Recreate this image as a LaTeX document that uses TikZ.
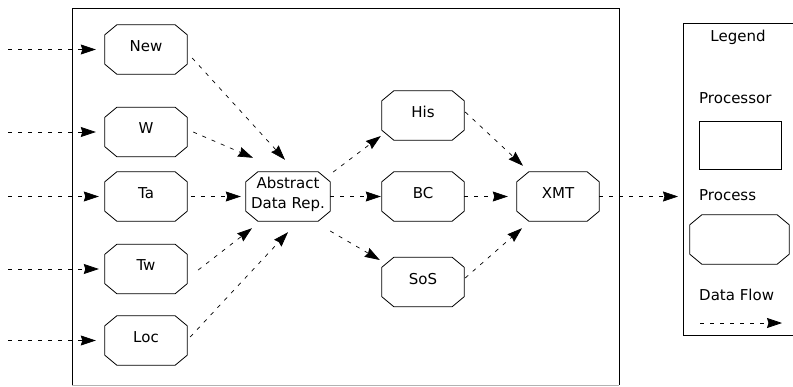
\documentclass[tikz,border=0pt]{standalone}
\usepackage{fontspec}
\setmainfont{DejaVu Sans}
\usetikzlibrary{arrows.meta}

\tikzset{
  proc/.style={rectangle, minimum width=82pt, minimum height=49pt,
    inner sep=0pt, text depth=7pt,
    font=\fontsize{15}{20}\selectfont, align=center},
  octline/.style={line width=0.8pt, line join=miter},
  flow/.style={line width=0.7pt, dash pattern=on 4pt off 6pt,
    -{Stealth[length=15pt,width=10pt,inset=1.5pt]}},
  frame/.style={line width=0.9pt},
  lbl/.style={font=\fontsize{15}{20}\selectfont, inner sep=0pt}
}

% octagonal outline of a process box, with corner cuts of 12pt x 10pt
\newcommand\octframe[1]{%
  \draw[octline]
    ([xshift=12pt]#1.north west) -- ([xshift=-12pt]#1.north east)
    -- ([yshift=-10pt]#1.north east) -- ([yshift=10pt]#1.south east)
    -- ([xshift=-12pt]#1.south east) -- ([xshift=12pt]#1.south west)
    -- ([yshift=10pt]#1.south west) -- ([yshift=-10pt]#1.north west)
    -- cycle;}

\begin{document}
\begin{tikzpicture}[x=1pt,y=-1pt]
\useasboundingbox (0,0) rectangle (793,386);

% system frame (bottom edge runs along the lower margin)
\draw[frame] (72,385) -- (72,8) -- (619,8) -- (619,385);
\draw[gray!60, line width=0.6pt] (72,385.5) -- (619,385.5);

% input processes
\node[proc] (new) at (146,49.5) {New};
\node[proc] (w)   at (146,132)  {W};
\node[proc] (ta)  at (146,196.5) {Ta};
\node[proc] (tw)  at (146,269)  {Tw};
\node[proc] (loc) at (146,340.5) {Loc};

% central representation
\node[proc, minimum width=84pt] (abs) at (288,196.5) {Abstract\\Data Rep.};

% output processes
\node[proc] (his) at (423,115.5) {His};
\node[proc] (bc)  at (423,196.5) {BC};
\node[proc] (sos) at (423,282)   {SoS};
\node[proc] (xmt) at (558,196.5) {XMT};

\foreach \n in {new,w,ta,tw,loc,abs,his,bc,sos,xmt} {\octframe{\n}}

% free ends of external flows
\coordinate (inNew) at (8,49.5);
\coordinate (inW)   at (8,132);
\coordinate (inTa)  at (8,196.5);
\coordinate (inTw)  at (8,269);
\coordinate (inLoc) at (8,340.5);
\coordinate (out)   at (678,196.5);

% incoming data flows
\draw[flow, shorten >=9pt] (inNew) -- (new.west);
\draw[flow, shorten >=9pt] (inW)   -- (w.west);
\draw[flow, shorten >=6pt] (inTa)  -- (ta.west);
\draw[flow, shorten >=6pt] (inTw)  -- (tw.west);
\draw[flow, shorten >=9pt] (inLoc) -- (loc.west);

% flows into the abstract representation
\draw[flow] ([shift={(5,8.5)}]new.east) -- ([shift={(-3,-12)}]abs.north);
\draw[flow] ([shift={(6,0)}]w.east)     -- ([shift={(-35,-14)}]abs.north);
\draw[flow, shorten >=5pt] ([shift={(4,0)}]ta.east) -- (abs.west);
\draw[flow] ([shift={(11,1)}]tw.east)   -- ([shift={(-36,7)}]abs.south);
\draw[flow] ([shift={(3,-3.5)}]loc.east) -- ([shift={(0,11)}]abs.south);

% flows out of the abstract representation
\draw[flow] ([shift={(3,-24.5)}]abs.east) -- ([shift={(-1,20.5)}]his.west);
\draw[flow, shorten >=1pt] (abs.east) -- (bc.west);
\draw[flow] ([shift={(0,34.5)}]abs.east) -- ([shift={(-2,-22)}]sos.west);

% flows into XMT
\draw[flow] ([shift={(1,-3.5)}]his.east) -- ([shift={(-35,-6)}]xmt.north);
\draw[flow, shorten >=9pt] (bc.east) -- (xmt.west);
\draw[flow] ([shift={(1,-4)}]sos.east) -- ([shift={(-36,7)}]xmt.south);

% outgoing flow
\draw[flow] (xmt.east) -- (out);

% legend
\draw[frame] (800,23) -- (683,23) -- (683,335) -- (800,335);
\node[lbl] (legtitle) at (738,37) {Legend};
\node[lbl, anchor=west] (legproc) at (699,98) {Processor};
\node[draw, line width=0.8pt, minimum width=82pt, minimum height=48pt, inner sep=0pt] (legbox) at (740,145) {};
\node[lbl, anchor=west] (legprocess) at (699,195) {Process};
\node[proc, minimum width=99pt] (legoct) at (739.5,239.5) {};
\octframe{legoct}
\node[lbl, anchor=west] (legflow) at (699,295) {Data Flow};
\coordinate (lf1) at (700,323);
\coordinate (lf2) at (782,323);
\draw[flow] (lf1) -- (lf2);
\end{tikzpicture}
\end{document}
